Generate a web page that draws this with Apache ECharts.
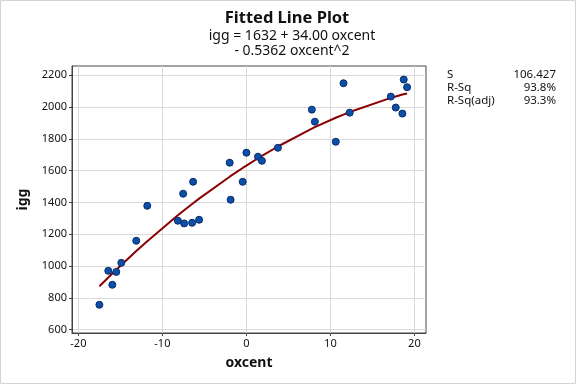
<!DOCTYPE html>
<html>
<head>
<meta charset="utf-8">
<script src="https://cdn.jsdelivr.net/npm/echarts@6/dist/echarts.min.js"></script>
<style>
html,body{margin:0;padding:0;background:#fff;}
#c{width:576px;height:384px;}
</style>
</head>
<body>
<div id="c"></div>
<script>
// Observed data (oxcent, igg)
var oxcent = [-17.5,-16.44,-15.96,-15.49,-14.89,-13.11,-11.8,-8.16,-7.53,-7.41,-6.46,-6.34,-5.63,-1.99,-1.88,-0.44,0,1.38,1.85,3.75,7.79,8.15,10.64,11.56,12.3,17.19,17.78,18.57,18.73,19.13];
var igg    = [756,970,882,963,1020,1159,1379,1285,1455,1268,1272,1530,1291,1650,1417,1530,1713,1688,1662,1744,1984,1908,1782,2150,1965,2066,1997,1959,2173,2125];
// Fitted line points
var fitX = [-17.5,-16.44,-15.96,-15.49,-14.89,-13.11,-11.8,-8.16,-7.53,-7.41,-6.46,-6.34,-5.63,-1.99,-1.88,-0.44,0,1.38,1.85,3.75,7.79,8.15,10.64,11.56,12.3,17.19,17.78,18.57,18.73,19.13];
var fitY = [873,928,953,977,1007,1094,1156,1319,1346,1351,1390,1395,1424,1562,1566,1617,1632,1678,1693,1752,1864,1874,1933,1953,1969,2058,2067,2079,2081,2086];
var xTicks = [-20,-10,0,10,20];
var yTicks = [600,800,1000,1200,1400,1600,1800,2000,2200];
var titleText = 'Fitted Line Plot';
var subLines = ['igg = 1632 + 34.00 oxcent', '- 0.5362 oxcent^2'];
var statLabels = ['S','R-Sq','R-Sq(adj)'];
var statValues = ['106.427','93.8%','93.3%'];

var FONT = 'Noto Sans';
var chart = echarts.init(document.getElementById('c'), null, {renderer:'canvas'});

var pts = oxcent.map(function(x,i){return [x, igg[i]];});
var fit = fitX.map(function(x,i){return [x, fitY[i]];});

var graphics = [
  {type:'rect', shape:{x:0.5,y:0.5,width:575,height:383}, style:{fill:'none', stroke:'#d4d4d4', lineWidth:1}, silent:true, z:-1}
];
graphics.push({type:'text', x:287, y:18, style:{text:titleText, font:'bold 16.5px "'+FONT+'"', fill:'#111', align:'center', verticalAlign:'middle'}});
subLines.forEach(function(t,i){
  graphics.push({type:'text', x:292, y:36 + i*15, style:{text:t, font:'14px "'+FONT+'"', fill:'#111', align:'center', verticalAlign:'middle'}});
});
statLabels.forEach(function(t,i){
  graphics.push({type:'text', x:447, y:75 + i*13, style:{text:t, font:'11.5px "'+FONT+'"', fill:'#111', align:'left', verticalAlign:'middle'}});
  graphics.push({type:'text', x:556, y:75 + i*13, style:{text:statValues[i], font:'11.5px "'+FONT+'"', fill:'#111', align:'right', verticalAlign:'middle'}});
});

chart.setOption({
  animation:false,
  backgroundColor:'#fff',
  grid:{left:72, top:66, right:150, bottom:51, show:true, borderColor:'#444', borderWidth:1, backgroundColor:'transparent'},
  xAxis:{
    type:'value', min:-20.76, max:21.38,
    name:'oxcent', nameLocation:'middle', nameGap:23,
    nameTextStyle:{fontFamily:FONT, fontSize:14, fontWeight:'bold', color:'#111'},
    axisLine:{show:true, onZero:false, lineStyle:{color:'#444'}},
    axisTick:{show:true, length:3, customValues:xTicks, lineStyle:{color:'#444'}},
    axisLabel:{customValues:xTicks, fontFamily:FONT, fontSize:11, color:'#111', margin:5, formatter:function(v){return String(v);}},
    splitLine:{show:true, lineStyle:{color:'#dadada', width:1}}
  },
  yAxis:{
    type:'value', min:578.6, max:2258.5,
    name:'igg', nameLocation:'middle', nameGap:42, nameRotate:90,
    nameTextStyle:{fontFamily:FONT, fontSize:14, fontWeight:'bold', color:'#111'},
    axisLine:{show:true, onZero:false, lineStyle:{color:'#444'}},
    axisTick:{show:true, length:3, customValues:yTicks, lineStyle:{color:'#444'}},
    axisLabel:{customValues:yTicks, fontFamily:FONT, fontSize:11, color:'#111', margin:5, formatter:function(v){return String(v);}},
    splitLine:{show:true, lineStyle:{color:'#dadada', width:1}}
  },
  series:[
    {type:'line', data:fit, showSymbol:false, symbol:'none', lineStyle:{color:'#8b0000', width:2}, z:2},
    {type:'scatter', data:pts, symbol:'circle', symbolSize:7, itemStyle:{color:'#0a50a8', borderColor:'#0b2a6a', borderWidth:1, opacity:1}, z:3}
  ],
  graphic:graphics
});
</script>
</body>
</html>
